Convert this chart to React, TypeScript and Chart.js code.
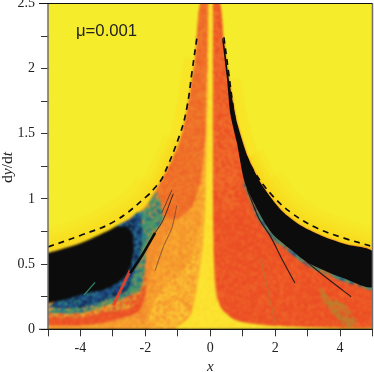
import React, { useEffect, useRef } from "react";
import { Chart, registerables } from "chart.js";

Chart.register(...registerables);

type P = [number, number];

const edgeLeft: P[] = [[-5, 0.585], [-4.5, 0.62], [-4, 0.66], [-3.5, 0.71], [-3, 0.775], [-2.5, 0.85], [-2, 0.945], [-1.65, 1.08], [-1.3, 1.24], [-0.95, 1.44], [-0.72, 1.68], [-0.47, 2.08], [-0.31, 2.5]];
const edgeRight: P[] = [[0.3, 2.5], [0.42, 2.21], [0.58, 1.91], [0.73, 1.7], [0.83, 1.58], [1.16, 1.32], [1.6, 1.105], [2.2, 0.91], [2.83, 0.79], [3.5, 0.71], [4.2, 0.65], [5, 0.595]];
const innerRight: P[] = [[5, 0.325], [4.03, 0.4], [3.5, 0.454], [2.98, 0.515], [2.49, 0.61], [1.96, 0.72], [1.75, 0.79], [1.47, 0.91], [1.07, 1.12], [0.83, 1.42], [0.62, 1.65], [0.52, 1.91], [0.36, 2.24], [0.28, 2.5]];

const glowWideLeft: P[] = [[-5, 0.585], [-4, 0.66], [-3, 0.775], [-2, 0.945], [-1.65, 1.08]];
const glowMidLeft: P[] = [[-5, 0.585], [-4, 0.66], [-3, 0.775], [-2, 0.945], [-1.3, 1.24], [-0.95, 1.44]];
const glowNarrowLeft: P[] = [[-5, 0.585], [-4, 0.66], [-3, 0.775], [-2, 0.945], [-1.3, 1.24], [-0.95, 1.44], [-0.72, 1.68], [-0.47, 2.08]];
const glowWideRight: P[] = [[1.6, 1.105], [2.2, 0.91], [2.83, 0.79], [3.5, 0.71], [4.2, 0.65], [5, 0.595]];
const glowMidRight: P[] = [[1.16, 1.32], [1.6, 1.105], [2.2, 0.91], [2.83, 0.79], [3.5, 0.71], [4.2, 0.65], [5, 0.595]];
const glowNarrowRight: P[] = [[0.58, 1.91], [0.73, 1.7], [0.83, 1.58], [1.16, 1.32], [1.6, 1.105], [2.2, 0.91], [2.83, 0.79], [3.5, 0.71], [4.2, 0.65], [5, 0.595]];

const plotBase: P[] = [[-5, 0], [-5, 2.5], [5, 2.5], [5, 0]];
const leftBase: P[] = [...edgeLeft, [0, 2.5], [0, 0], [-5, 0]];
const wedgeRed: P[] = [[-1.65, 1.08], [-1.3, 1.24], [-0.95, 1.44], [-0.72, 1.68], [-0.47, 2.08], [-0.31, 2.5], [-0.07, 2.5], [-0.12, 1.6], [-0.3, 1.15], [-0.55, 0.95], [-1, 0.85], [-1.4, 0.85]];
const leftMid: P[] = [[-2.02, 0], [-1.9, 0.35], [-1.5, 0.65], [-1, 0.85], [-0.6, 0.98], [-0.25, 1.3], [-0.1, 1.6], [-0.05, 0], [-1, 0]];
const leftLight: P[] = [[-2.05, 0], [-1.75, 0.2], [-1.3, 0.36], [-0.8, 0.45], [-0.4, 0.7], [-0.2, 0.9], [-0.1, 0], [-1, 0]];
const bottomLeftAmber: P[] = [[-5, 0.045], [-4, 0.035], [-3, 0.05], [-2.3, 0.09], [-2, 0], [-5, 0]];
const redBand: P[] = [[-5, 0.14], [-4, 0.13], [-3.2, 0.16], [-2.7, 0.34], [-2.3, 0.55], [-2.02, 0.5], [-1.98, 0.3], [-2.2, 0.14], [-2.7, 0.09], [-3.3, 0.05], [-4, 0.03], [-5, 0.03]];
const amberBand: P[] = [[-5, 0.2], [-4, 0.17], [-3.2, 0.21], [-2.7, 0.38], [-2.3, 0.6], [-2.02, 0.52], [-2, 0.33], [-2.2, 0.22], [-2.6, 0.15], [-3.2, 0.135], [-4, 0.09], [-5, 0.09]];
const greenBand: P[] = [[-5, 0.125], [-4, 0.125], [-3.2, 0.185], [-2.5, 0.26], [-2.15, 0.3], [-2.02, 0.45], [-1.95, 0.62], [-1.7, 0.74], [-1.45, 0.86], [-1.65, 1.05], [-2, 0.93], [-2.5, 0.84], [-3, 0.77], [-3.5, 0.5]];
const blueBand: P[] = [[-5, 0.165], [-4, 0.165], [-3.2, 0.225], [-2.55, 0.3], [-2.4, 0.4], [-2.15, 0.55], [-2.1, 0.78], [-2.2, 0.9], [-2.5, 0.84], [-2.9, 0.785], [-3.5, 0.5]];
const blackLeft: P[] = [[-5, 0.585], [-4, 0.66], [-3.1, 0.762], [-2.85, 0.79], [-2.45, 0.76], [-2.36, 0.6], [-2.57, 0.42], [-2.87, 0.355], [-3.3, 0.3], [-3.8, 0.28], [-4.42, 0.23], [-5, 0.2]];
const centerHalo: P[] = [[-0.07, 2.5], [-0.02, 2.5], [-0.02, 0], [-0.75, 0], [-0.5, 0.3], [-0.3, 0.8], [-0.15, 1.5]];
const rightBase: P[] = [[0.08, 2.5], ...edgeRight, [5, 0.012], [2, 0.025], [1.1, 0.05], [0.73, 0.075], [0.45, 0.13], [0.3, 0.18], [0.2, 0.31], [0.13, 0.5], [0.09, 0.9]];
const rightTop: P[] = [[0.08, 2.5], [0.3, 2.5], [0.42, 2.21], [0.58, 1.91], [0.73, 1.7], [0.9, 1.3], [0.9, 1], [0.5, 0.9], [0.1, 1.1]];
const blackRight: P[] = [...edgeRight.slice(1), ...innerRight.slice(0, -1)];
const fringeRight: P[] = [[5, 0.335], [4.03, 0.41], [3.5, 0.464], [2.98, 0.525], [2.49, 0.62], [1.96, 0.73], [1.47, 0.92], [1.07, 1.13], [1.02, 1.12], [1.4, 0.88], [1.9, 0.7], [2.45, 0.59], [2.98, 0.49], [3.5, 0.43], [4.03, 0.375], [5, 0.295]];
const centerYellow: P[] = [[-0.05, 2.5], [0.06, 2.5], [0.08, 1.5], [0.09, 0.72], [0.15, 0.31], [0.3, 0.17], [0.73, 0.065], [1.84, 0.018], [5, 0.004], [5, 0], [-1.05, 0], [-0.62, 0.1], [-0.42, 0.3], [-0.2, 0.7], [-0.14, 1.1], [-0.08, 1.8]];
const oliveA: P[] = [[3.35, 0.33], [3.7, 0.24], [4.2, 0.18], [4.5, 0.03], [4.15, 0.02], [3.9, 0.09], [3.5, 0.2]];

const dashLeft: P[] = [[-5, 0.632], [-4, 0.72], [-2.94, 0.83], [-1.96, 1.02], [-1.66, 1.1], [-1.46, 1.17], [-0.93, 1.5], [-0.72, 1.7], [-0.56, 1.98], [-0.41, 2.24]];
const dashRight: P[] = [[0.42, 2.24], [0.56, 1.98], [0.72, 1.68], [0.85, 1.48], [1.07, 1.35], [1.38, 1.2], [1.9, 1.03], [2.52, 0.89], [3.3, 0.775], [4.12, 0.7], [5, 0.635]];

const streakMain: P[] = [[-2.47, 0.43], [-2.07, 0.58], [-1.7, 0.74]];
const streakThin: P[] = [[-1.7, 0.74], [-1.45, 0.84], [-1.14, 1.04]];
const streakDim: P[] = [[-1.7, 0.45], [-1.45, 0.63], [-1.18, 0.78], [-1.03, 0.95]];
const streakUpper: P[] = [[-1.5, 0.89], [-1.18, 1.07]];
const streakRed: P[] = [[-2.98, 0.186], [-2.47, 0.45]];
const streakGlow: P[] = [[-2, 0.02], [-1.65, 0.32], [-1.25, 0.75]];
const streakRightA: P[] = [[1.13, 1.08], [1.5, 0.85], [1.85, 0.715], [2.27, 0.51], [2.61, 0.355]];
const streakRightB: P[] = [[2.98, 0.515], [3.66, 0.38], [4.34, 0.25]];
const streakOlive: P[] = [[1.55, 0.55], [1.75, 0.33], [2, 0.05]];
const streakTeal: P[] = [[-3.9, 0.26], [-3.55, 0.36]];

const xTicks = [-5, -3, -1, 1, 3, 5];
const yLabels = [2.5, 2, 1.5, 1, 0.5, 0];
const noteText = "\u03bc=0.001";
const clear = "rgba(0,0,0,0)";

const layers: [P[], string[]][] = [
  [plotBase, ["#F5EC2B"]],
  [leftBase, ["#F28E2C", "#F49A2E", "#F0822A", "#F39530"]],
  [leftMid, ["#F79A2C", "#F8A62E", "#F4922C", "#F9AE30", clear]],
  [wedgeRed, ["#EF6C28", "#F07628", "#ED6426", "#F07E2A"]],
  [leftLight, ["#FAB531", "#FBBF33", "#F8A62E", "#FBC934", clear, clear]],
  [bottomLeftAmber, ["#F8A12D", "#F7AA2E", "#F4962C"]],
  [redBand, ["#EC5025", "#EE5E27", "#E94C24"]],
  [amberBand, ["#D9962E", "#EC6A28", "#C09C38", "#F0A82E", clear, clear]],
  [greenBand, ["#3F9468", "#2F8A84", "#6F9A58", "#2A6A86", "#C08A40", "#3F9468"]],
  [blueBand, ["#1F4F86", "#163A6A", "#2A7A84", "#102040", "#1F4F86"]],
  [centerHalo, ["#F9AE30", "#FAB832", "#F8A42E", clear]],
  [rightBase, ["#EC5024", "#EE5A26", "#EA4A24", "#EC5024", "#EF6428"]],
  [rightTop, ["#F0702A", "#EF6828", clear, clear]],
  [oliveA, ["#B8802C", "#CC762A", "#B8802C", clear]],
  [fringeRight, ["#2F8A84", "#1F4F86", "#3F9468", "#C8702A"]],
  [centerYellow, ["#FCE22E", "#FBE634", "#FCDC2C"]],
];

const strokes: [P[], string, number, number[], number][] = [
  [streakGlow, "rgba(246,160,46,0.6)", 3, [], 0],
  [streakOlive, "rgba(180,120,50,0.6)", 1.5, [], 0],
  [streakRed, "rgba(232,64,42,0.9)", 3, [], 0],
  [streakMain, "#0C0C0C", 2.6, [], 0.3],
  [streakThin, "rgba(20,20,20,0.8)", 1, [], 0.3],
  [streakDim, "rgba(100,60,50,0.6)", 1.1, [], 0.3],
  [streakUpper, "rgba(58,42,42,0.7)", 1, [], 0],
  [streakRightA, "rgba(22,22,22,0.9)", 1.1, [], 0.3],
  [streakRightB, "rgba(22,22,22,0.9)", 1.1, [], 0.3],
  [streakTeal, "#2F8A70", 1.2, [], 0],
  [dashLeft, "#0C0C0C", 1.7, [6, 5], 0.4],
  [dashRight, "#0C0C0C", 1.7, [6, 5], 0.4],
];

const glowPasses: [P[], number, string][] = [
  [glowWideLeft, 48, "rgba(255,205,20,0.12)"],
  [glowWideRight, 48, "rgba(255,205,20,0.12)"],
  [glowMidLeft, 34, "rgba(255,205,20,0.16)"],
  [glowMidRight, 34, "rgba(255,205,20,0.16)"],
  [glowNarrowLeft, 22, "rgba(255,205,20,0.2)"],
  [glowNarrowRight, 22, "rgba(255,205,20,0.2)"],
  [glowMidLeft, 12, "rgba(255,205,20,0.3)"],
  [glowMidRight, 12, "rgba(255,205,20,0.3)"],
];

const toXY = (pts: P[]) => pts.map(([x, y]) => ({ x, y }));

function speckle(colors: string[]): any {
  if (colors.length === 1) return colors[0];
  const c = document.createElement("canvas");
  c.width = c.height = 120;
  const g = c.getContext("2d")!;
  for (let i = 0; i < 60; i++) {
    for (let j = 0; j < 60; j++) {
      const s = Math.sin(i * 12.9898 + j * 78.233 + colors.length) * 43758.5453;
      const k = Math.floor((s - Math.floor(s)) * colors.length);
      g.fillStyle = colors[k];
      g.fillRect(i * 2, j * 2, 2, 2);
    }
  }
  return g.createPattern(c, "repeat");
}

const overlay = {
  id: "overlay",
  beforeDatasetDraw(chart: any, args: any) {
    if (args.meta.order !== 51) return;
    const { ctx, chartArea: a, canvas } = chart;
    ctx.save();
    ctx.beginPath();
    ctx.rect(a.left, a.top, a.right - a.left, a.bottom - a.top);
    ctx.clip();
    ctx.filter = "blur(0.8px)";
    ctx.drawImage(canvas, 0, 0);
    ctx.restore();
  },
  afterDatasetsDraw(chart: any) {
    const { ctx, chartArea: a } = chart;
    ctx.save();
    ctx.strokeStyle = "#6F6F6F";
    ctx.lineWidth = 1.5;
    ctx.beginPath();
    ctx.moveTo(a.left, a.top);
    ctx.lineTo(a.left, a.bottom);
    ctx.moveTo(a.right, a.top);
    ctx.lineTo(a.right, a.bottom);
    ctx.stroke();
    ctx.strokeStyle = "#111";
    ctx.lineWidth = 1;
    ctx.beginPath();
    ctx.moveTo(39, a.top);
    ctx.lineTo(a.right, a.top);
    ctx.moveTo(39, a.bottom);
    ctx.lineTo(a.right, a.bottom);
    ctx.stroke();
    ctx.fillStyle = "#222";
    ctx.font = '16.7px "Liberation Sans"';
    ctx.textBaseline = "alphabetic";
    ctx.fillText(noteText, 76, 36);
    ctx.restore();
  },
  afterDraw(chart: any) {
    const { ctx } = chart;
    ctx.save();
    ctx.fillStyle = "#222";
    ctx.translate(11.5, 183);
    ctx.rotate(-Math.PI / 2);
    ctx.textBaseline = "alphabetic";
    ctx.textAlign = "left";
    let px = 0;
    for (const [t, f] of [["d", ""], ["y", "italic "], ["/d", ""], ["t", "italic "]]) {
      ctx.font = f + '15.5px "Liberation Serif"';
      ctx.fillText(t, px, 0);
      px += ctx.measureText(t).width;
    }
    ctx.restore();
  },
};

export default function App() {
  const ref = useRef<HTMLCanvasElement>(null);
  useEffect(() => {
    const shape = (pts: P[], color: any, order: number) => ({
      data: toXY(pts),
      showLine: true,
      fill: "shape",
      backgroundColor: color,
      borderWidth: 0,
      borderColor: "transparent",
      pointRadius: 0,
      tension: 0.25,
      order,
    });
    const fillSets = layers.map(([pts, colors], i) => shape(pts, speckle(colors), i === 0 ? 200 : 100 - i));
    const blackSets = [shape(blackLeft, "#0C0C0C", 51), shape(blackRight, "#0C0C0C", 50)];
    const glowSets = glowPasses.map(([pts, w, color], i) => ({
      data: toXY(pts),
      showLine: true,
      fill: false,
      borderColor: color,
      borderWidth: w,
      pointRadius: 0,
      tension: 0.3,
      order: 150 - i,
    }));
    const strokeSets = strokes.map(([pts, color, w, dash, tension], i) => ({
      data: toXY(pts),
      showLine: true,
      fill: false,
      borderColor: color,
      borderWidth: w,
      borderDash: dash,
      pointRadius: 0,
      tension,
      order: 49 - i,
    }));
    const chart = new Chart(ref.current!, {
      type: "scatter",
      data: { datasets: [...fillSets, ...blackSets, ...glowSets, ...strokeSets] as any },
      plugins: [overlay],
      options: {
        animation: false,
        responsive: false,
        events: [],
        layout: { padding: { top: 3.5, right: 1.5, left: 0, bottom: 0 } },
        plugins: { legend: { display: false }, tooltip: { enabled: false }, filler: { drawTime: "beforeDatasetDraw" } },
        scales: {
          x: {
            type: "linear",
            min: -5,
            max: 5,
            afterFit: (s: any) => { s.height = 42.7; s.paddingLeft = 0; s.paddingRight = 0; },
            ticks: {
              stepSize: 1,
              autoSkip: false,
              maxRotation: 0,
              padding: 4,
              color: "#222",
              font: { family: "Liberation Serif", size: 14 },
              callback: (v: any) => (xTicks.includes(v) ? "" : String(v)),
            },
            grid: { drawOnChartArea: false, tickLength: 7, tickColor: "#333" },
            border: { color: "#111", width: 1 },
            title: {
              display: true,
              text: "x",
              color: "#222",
              padding: { top: 0, bottom: -4 },
              font: { family: "Liberation Serif", size: 15, style: "italic" },
            },
          },
          y: {
            type: "linear",
            min: 0,
            max: 2.5,
            afterFit: (s: any) => { s.width = 48; s.paddingTop = 0; s.paddingBottom = 0; },
            ticks: {
              stepSize: 0.25,
              autoSkip: false,
              padding: 6,
              color: "#222",
              font: { family: "Liberation Serif", size: 14 },
              callback: (v: any) => (yLabels.includes(v) ? String(v) : ""),
            },
            grid: { drawOnChartArea: false, tickLength: 7, tickColor: "#333" },
            border: { color: "#6F6F6F", width: 1 },
          },
        },
      } as any,
    });
    return () => chart.destroy();
  }, []);
  return (
    <div style={{ position: "absolute", left: 0, top: 0, width: 374, height: 372 }}>
      <canvas ref={ref} width={374} height={372} style={{ display: "block" }} />
    </div>
  );
}
